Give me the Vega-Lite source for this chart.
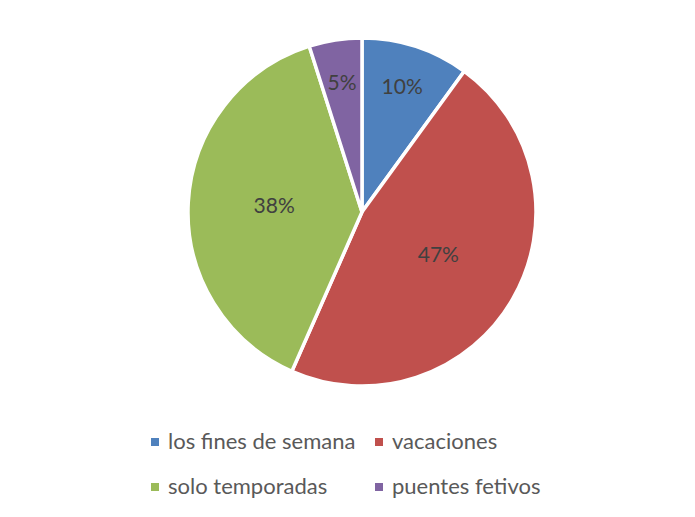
{
  "$schema": "https://vega.github.io/schema/vega-lite/v6.json",
  "width": 666,
  "height": 424,
  "autosize": {"type": "none"},
  "padding": {"left": 29, "top": 0, "right": 0, "bottom": 93},
  "background": "white",
  "config": {"view": {"stroke": null}},
  "data": {
    "values": [
      {"idx": 1, "category": "los fines de semana", "value": 10.0, "label": "10%"},
      {"idx": 2, "category": "vacaciones", "value": 46.6, "label": "47%"},
      {"idx": 3, "category": "solo temporadas", "value": 38.5, "label": "38%"},
      {"idx": 4, "category": "puentes fetivos", "value": 4.9, "label": "5%"}
    ]
  },
  "encoding": {
    "theta": {"field": "value", "type": "quantitative", "stack": true},
    "order": {"field": "idx", "type": "quantitative"},
    "color": {
      "field": "category",
      "type": "nominal",
      "sort": ["los fines de semana", "vacaciones", "solo temporadas", "puentes fetivos"],
      "scale": {
        "domain": ["los fines de semana", "vacaciones", "solo temporadas", "puentes fetivos"],
        "range": ["#4F81BD", "#C0504D", "#9BBB59", "#8064A2"]
      },
      "legend": {
        "title": null,
        "orient": "none",
        "legendX": 115,
        "legendY": 431,
        "columns": 2,
        "direction": "horizontal",
        "symbolType": "square",
        "symbolSize": 64,
        "symbolStrokeWidth": 0,
        "labelFont": "Lato",
        "labelFontSize": 22,
        "labelColor": "#595959",
        "labelOffset": 2,
        "rowPadding": 23,
        "columnPadding": 12,
        "padding": 0,
        "labelLimit": 400
      }
    }
  },
  "layer": [
    {
      "mark": {"type": "arc", "outerRadius": 174, "stroke": "white", "strokeWidth": 3.5}
    },
    {
      "mark": {"type": "text", "radius": 88, "font": "Lato", "fontSize": 21, "align": "center", "baseline": "middle"},
      "encoding": {
        "text": {"condition": {"test": "datum.value > 20", "field": "label"}, "value": ""},
        "color": {"value": "#404040"}
      }
    },
    {
      "mark": {"type": "text", "radius": 130, "font": "Lato", "fontSize": 21, "align": "center", "baseline": "middle"},
      "encoding": {
        "text": {"condition": {"test": "datum.value <= 20", "field": "label"}, "value": ""},
        "color": {"value": "#404040"}
      }
    }
  ]
}
